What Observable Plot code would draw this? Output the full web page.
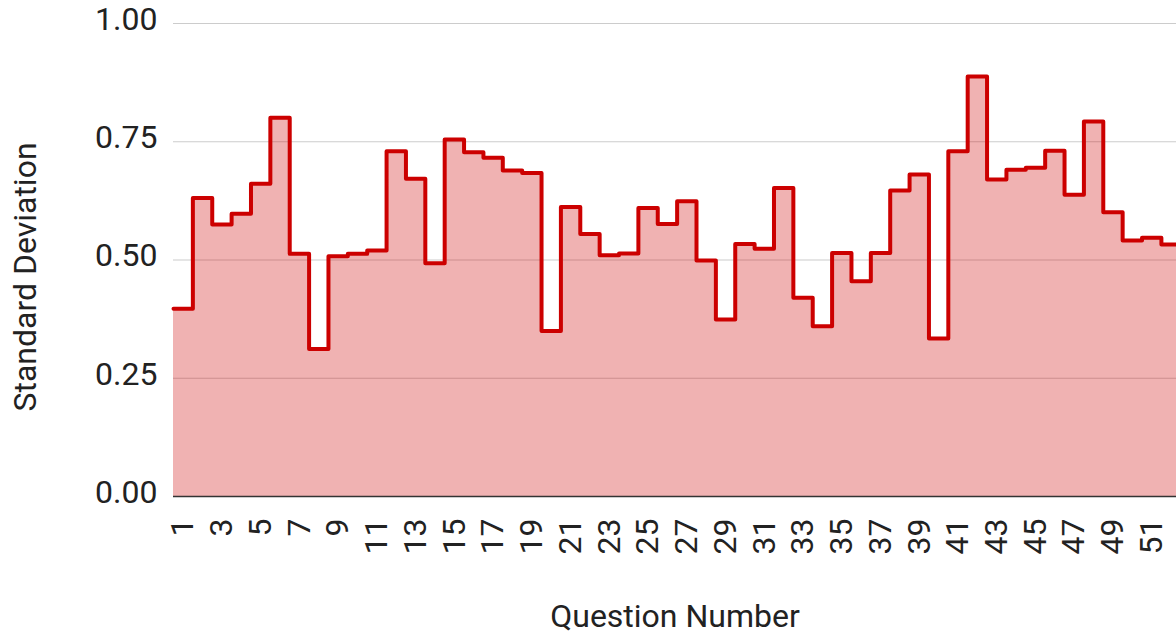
<!DOCTYPE html>
<html>
<head>
<meta charset="utf-8">
<script src="https://cdn.jsdelivr.net/npm/d3@7"></script>
<script src="https://cdn.jsdelivr.net/npm/@observablehq/plot@0.6"></script>
<style>
  html, body { margin: 0; padding: 0; background: #fff; }
  #chart { width: 1176px; height: 633px; overflow: hidden; }
</style>
</head>
<body>
<div id="chart"></div>
<script>
const questions = [1,2,3,4,5,6,7,8,9,10,11,12,13,14,15,16,17,18,19,20,21,22,23,24,25,26,
  27,28,29,30,31,32,33,34,35,36,37,38,39,40,41,42,43,44,45,46,47,48,49,50,51,52];
const stdDev = [0.397,0.631,0.575,0.598,0.661,0.801,0.513,0.312,0.508,0.513,0.520,0.730,0.672,
  0.493,0.755,0.728,0.716,0.689,0.684,0.350,0.612,0.555,0.510,0.514,0.610,0.576,0.624,0.499,
  0.374,0.534,0.524,0.652,0.420,0.360,0.515,0.455,0.515,0.647,0.681,0.334,0.730,0.888,0.670,
  0.691,0.695,0.731,0.638,0.793,0.601,0.541,0.547,0.533];
const xTicks = [1,3,5,7,9,11,13,15,17,19,21,23,25,27,29,31,33,35,37,39,41,43,45,47,49,51];
const yTicks = [0, 0.25, 0.5, 0.75, 1];

const data = questions.map((q, i) => ({q, v: stdDev[i]}));
// each question occupies a band [q-0.5, q+0.5] (stepped area)
const steps = data.flatMap(d => [{x: d.q - 0.5, y: d.v}, {x: d.q + 0.5, y: d.v}]);

const chart = Plot.plot({
  width: 1176,
  height: 633,
  marginLeft: 173,
  marginRight: 0,
  marginTop: 23,
  marginBottom: 137,
  style: {fontFamily: "Roboto", fontSize: "32px", color: "#222", background: "#fff", overflow: "hidden"},
  x: {domain: [0.5, 52.28], label: null},
  y: {domain: [0, 1], label: null},
  marks: [
    Plot.gridY(yTicks, {stroke: "#cccccc", strokeOpacity: 1, strokeWidth: 1.2}),
    Plot.areaY(steps, {x: "x", y1: 0, y2: "y", fill: "#cc0000", fillOpacity: 0.3}),
    Plot.lineY(steps, {x: "x", y: "y", stroke: "#cc0000", strokeWidth: 4, strokeLinejoin: "round", strokeLinecap: "round"}),
    Plot.ruleY([0], {stroke: "#333", strokeWidth: 1.5}),
    Plot.axisY(yTicks, {tickFormat: d3.format(".2f"), tickSize: 0, tickPadding: 16, dy: -4, fill: "#222", label: null}),
    Plot.axisX(xTicks, {tickFormat: d => String(d), tickRotate: -90, tickSize: 0, tickPadding: 22, fill: "#222", label: null}),
    Plot.text(["Question Number"], {frameAnchor: "bottom", dy: 130, fontSize: 32, fill: "#222"}),
    Plot.text(["Standard Deviation"], {frameAnchor: "left", textAnchor: "middle", dx: -148, dy: 17, rotate: -90, fontSize: 32, fill: "#222"})
  ]
});
document.getElementById("chart").append(chart);
</script>
</body>
</html>
